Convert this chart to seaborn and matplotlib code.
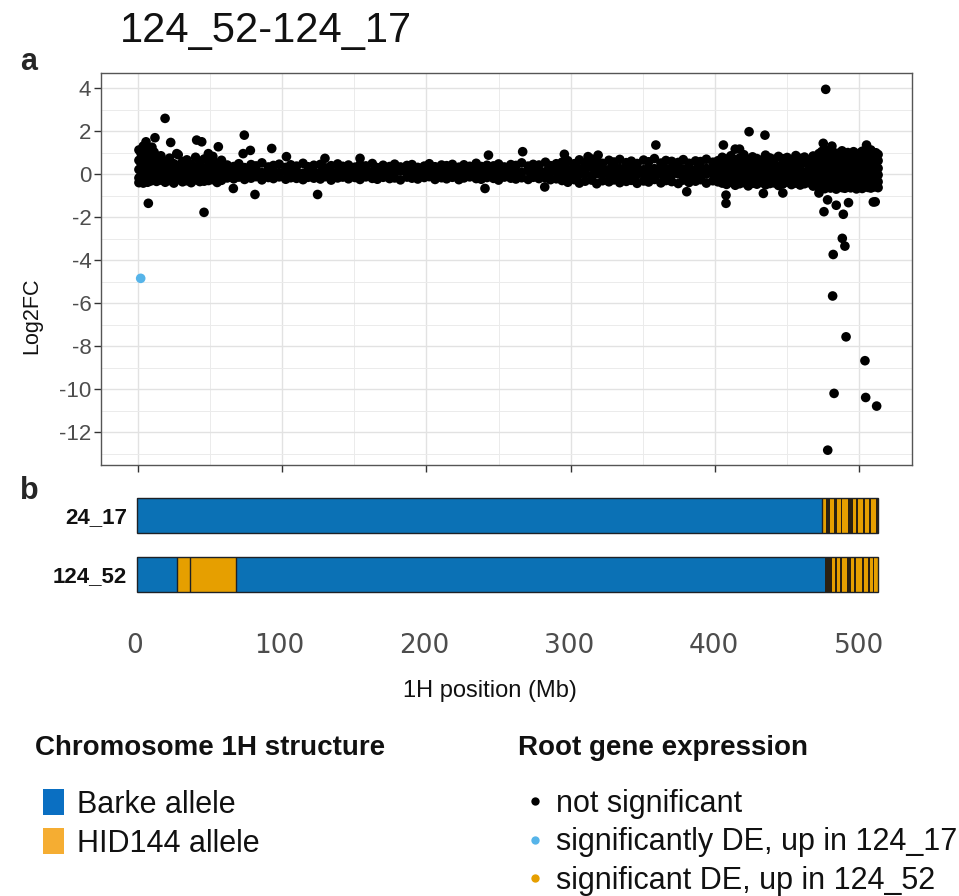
import matplotlib
matplotlib.use("Agg")
import matplotlib.pyplot as plt
from matplotlib.patches import Patch
from matplotlib.lines import Line2D
from matplotlib.ticker import MultipleLocator
import seaborn as sns
import pandas as pd

# ---------------- data ----------------
# dense cloud of non-significant genes (position in Mb, log2 fold change)
posA = [0.8, 2.3, 3.8, 5.3, 6.8, 8.3, 9.8, 11.3]
lfcA = [1.12, 0.64, 0.21, -0.18, -0.40,
        0.95, 0.48, 0.12, -0.26, -0.35,
        1.30, 0.82, 0.35, -0.08, -0.42,
        0.72, 0.40, 0.02, -0.31, 1.05,
        1.18, 0.57, 0.25, -0.14, -0.38,
        0.90, 0.36, -0.05, -0.33, 0.68,
        1.25, 0.70, 0.15, -0.22, -0.30,
        0.85, 0.44, 0.08, -0.28, 1.02]

posB = [13, 16, 19, 22, 25, 28, 31, 34, 37, 40, 43, 46, 49, 52, 55, 58]
lfcB = [0.62, 0.28, -0.05, -0.34, 0.85, 0.35, 0.02, -0.28, 0.55, 0.20, -0.12, -0.38,
        0.74, 0.31, 0.00, -0.30, 0.48, 0.18, -0.10, -0.42, 0.90, 0.40, 0.05, -0.25,
        0.58, 0.22, -0.08, -0.36, 0.66, 0.30, -0.02, -0.31, 0.45, 0.12, -0.15, -0.40,
        0.78, 0.33, 0.04, -0.27, 0.52, 0.19, -0.11, -0.35, 0.70, 0.27, -0.03, -0.33,
        0.60, 0.24, -0.07, -0.30, 0.82, 0.36, 0.01, -0.26, 0.50, 0.15, -0.13, -0.39,
        0.64, 0.29, -0.04, -0.29]

posC = [62, 66.5, 70, 74, 78.5, 82, 86, 90.5, 94, 98, 102.5, 106, 110, 114.5, 118,
        122, 126.5, 130, 134, 138.5, 142, 146, 150.5, 154, 158, 162.5, 166, 170,
        174.5, 178, 182, 186.5, 190, 194, 198.5, 202, 206, 210.5, 214, 218, 222.5,
        226, 230, 234.5, 238, 242, 246.5, 250, 254, 258.5, 262, 266, 270.5, 274,
        278, 282.5, 286, 290]
lfcC_hi = [0.42, 0.35, 0.48, 0.30, 0.44, 0.38, 0.52, 0.33, 0.40, 0.46, 0.31, 0.43,
           0.37, 0.50, 0.34, 0.41, 0.45, 0.29, 0.39, 0.47, 0.36, 0.42, 0.32, 0.44,
           0.38, 0.49, 0.30, 0.41, 0.35, 0.46, 0.33, 0.40, 0.44, 0.31, 0.37, 0.48,
           0.34, 0.42, 0.39, 0.45, 0.32, 0.43, 0.36, 0.50, 0.35, 0.41, 0.38, 0.47,
           0.33, 0.44, 0.40, 0.52, 0.37, 0.45, 0.42, 0.55, 0.39, 0.48]
lfcC_mid = [0.12, 0.08, 0.15, 0.05, 0.10, 0.14, 0.07, 0.11, 0.16, 0.06, 0.13, 0.09,
            0.12, 0.04, 0.15, 0.10, 0.08, 0.13, 0.06, 0.11, 0.14, 0.09, 0.12, 0.07,
            0.16, 0.10, 0.05, 0.13, 0.11, 0.08, 0.15, 0.09, 0.12, 0.06, 0.14, 0.10,
            0.07, 0.13, 0.11, 0.16, 0.08, 0.12, 0.05, 0.14, 0.10, 0.09, 0.15, 0.11,
            0.07, 0.13, 0.12, 0.08, 0.16, 0.10, 0.14, 0.11, 0.09, 0.15]
lfcC_lo = [-0.18, -0.22, -0.14, -0.25, -0.19, -0.12, -0.27, -0.16, -0.21, -0.13,
           -0.24, -0.17, -0.20, -0.26, -0.15, -0.19, -0.23, -0.12, -0.28, -0.18,
           -0.14, -0.22, -0.16, -0.25, -0.13, -0.20, -0.24, -0.15, -0.21, -0.18,
           -0.27, -0.14, -0.19, -0.23, -0.16, -0.12, -0.25, -0.17, -0.22, -0.15,
           -0.26, -0.18, -0.13, -0.21, -0.24, -0.16, -0.20, -0.28, -0.14, -0.19,
           -0.23, -0.17, -0.25, -0.15, -0.21, -0.18, -0.26, -0.22]

posD = [294, 298, 302.5, 306, 310, 314.5, 318, 322, 326.5, 330, 334, 338.5, 342, 346,
        350.5, 354, 358, 362.5, 366, 370, 374.5, 378, 382, 386.5, 390, 394, 398.5, 402]
lfcD_hi = [0.55, 0.62, 0.48, 0.66, 0.52, 0.70, 0.58, 0.50, 0.64, 0.56, 0.68, 0.53,
           0.60, 0.49, 0.65, 0.57, 0.72, 0.51, 0.63, 0.59, 0.54, 0.67, 0.50, 0.61,
           0.58, 0.69, 0.55, 0.62]
lfcD_m2 = [0.28, 0.22, 0.31, 0.25, 0.19, 0.33, 0.24, 0.29, 0.21, 0.30, 0.26, 0.23,
           0.32, 0.27, 0.20, 0.29, 0.25, 0.31, 0.22, 0.28, 0.34, 0.24, 0.27, 0.21,
           0.30, 0.26, 0.23, 0.29]
lfcD_m1 = [0.02, -0.05, 0.06, -0.02, 0.04, -0.07, 0.01, 0.05, -0.04, 0.03, -0.06, 0.00,
           0.07, -0.03, 0.02, -0.05, 0.04, -0.01, 0.06, -0.04, 0.01, 0.03, -0.06, 0.05,
           -0.02, 0.00, 0.04, -0.03]
lfcD_lo = [-0.30, -0.38, -0.26, -0.42, -0.33, -0.28, -0.45, -0.31, -0.36, -0.27, -0.40,
           -0.34, -0.29, -0.43, -0.32, -0.37, -0.25, -0.41, -0.30, -0.35, -0.44, -0.28,
           -0.39, -0.33, -0.26, -0.42, -0.31, -0.36]

posE = [405, 408, 411, 414, 417, 420, 423, 426, 429, 432, 435, 438, 441, 444, 447,
        450, 453, 456, 459, 462, 465, 468, 470.5]
lfcE_1 = [0.78, 0.70, 0.85, 0.66, 0.74, 0.90, 0.68, 0.80, 0.72, 0.64, 0.88, 0.75,
          0.69, 0.82, 0.71, 0.77, 0.65, 0.86, 0.73, 0.79, 0.67, 0.84, 0.76]
lfcE_2 = [0.45, 0.38, 0.50, 0.42, 0.35, 0.48, 0.40, 0.52, 0.37, 0.44, 0.47, 0.39,
          0.51, 0.36, 0.43, 0.49, 0.41, 0.46, 0.38, 0.53, 0.42, 0.45, 0.40]
lfcE_3 = [0.15, 0.10, 0.18, 0.08, 0.13, 0.20, 0.11, 0.16, 0.07, 0.14, 0.19, 0.09,
          0.17, 0.12, 0.06, 0.15, 0.10, 0.18, 0.13, 0.08, 0.16, 0.11, 0.14]
lfcE_4 = [-0.15, -0.20, -0.10, -0.18, -0.12, -0.22, -0.14, -0.08, -0.19, -0.16, -0.11,
          -0.21, -0.13, -0.17, -0.09, -0.20, -0.15, -0.12, -0.18, -0.10, -0.23, -0.14, -0.16]
lfcE_5 = [-0.42, -0.48, -0.38, -0.52, -0.45, -0.40, -0.55, -0.43, -0.47, -0.39, -0.50,
          -0.44, -0.41, -0.53, -0.46, -0.37, -0.49, -0.42, -0.51, -0.45, -0.40, -0.56, -0.47]

posF = [472, 474, 476, 478, 480, 482, 484, 486, 488, 490, 492, 494, 496, 498, 500,
        502, 504, 506, 508, 510, 511.5, 513]
lfcF_1 = [0.95, 1.05, 0.88, 1.10, 0.92, 1.02, 0.85, 0.98, 1.08, 0.90, 1.00, 0.87,
          1.04, 0.93, 0.97, 1.06, 0.89, 1.01, 0.94, 0.86, 0.99, 0.91]
lfcF_2 = [0.62, 0.55, 0.68, 0.58, 0.65, 0.52, 0.60, 0.70, 0.56, 0.63, 0.59, 0.66,
          0.54, 0.61, 0.67, 0.57, 0.64, 0.53, 0.69, 0.60, 0.58, 0.62]
lfcF_3 = [0.28, 0.22, 0.33, 0.25, 0.30, 0.20, 0.35, 0.27, 0.24, 0.31, 0.21, 0.29,
          0.34, 0.23, 0.26, 0.32, 0.19, 0.30, 0.25, 0.28, 0.22, 0.27]
lfcF_4 = [-0.05, 0.02, -0.08, 0.00, -0.03, -0.10, 0.04, -0.06, 0.01, -0.09, -0.02,
          0.03, -0.07, -0.01, -0.04, 0.05, -0.08, -0.03, 0.00, -0.06, 0.02, -0.04]
lfcF_5 = [-0.35, -0.30, -0.40, -0.28, -0.38, -0.33, -0.42, -0.31, -0.36, -0.29, -0.41,
          -0.34, -0.37, -0.32, -0.39, -0.27, -0.43, -0.35, -0.30, -0.38, -0.33, -0.36]
lfcF_6 = [-0.62, -0.58, -0.68, -0.55, -0.65, -0.60, -0.70, -0.57, -0.63, -0.66, -0.59,
          -0.64, -0.56, -0.69, -0.61, -0.67, -0.58, -0.62, -0.65, -0.60, -0.57, -0.63]

# scattered non-significant genes away from the band
out_pos = [18.9, 7.3, 45.9, 73.8, 40.8, 44.3, 22.8, 11.9, 5.7, 55.8, 81.2, 124.6, 66.2,
           92.8, 78, 73, 103, 129.7, 154, 27, 48.9, 243, 266.7, 295.6, 359, 240.6, 282,
           319, 312, 423.6, 434.6, 405.8, 414, 417, 407.6, 407.6, 433.5, 447, 380.4,
           475, 481, 505, 508, 476.7, 475.5, 488.9, 478, 484, 509.7, 472, 488.2, 490,
           481.9, 481.5, 490.8, 503.9, 482.5, 504.4, 512, 478.1, 511, 492.5]
out_lfc = [2.59, -1.36, -1.78, 1.81, 1.58, 1.50, 1.47, 1.69, 1.50, 1.27, -0.95, -0.95,
           -0.67, 1.19, 1.10, 0.95, 0.81, 0.73, 0.73, 0.95, 0.95, 0.88, 1.04, 0.92, 1.35,
           -0.67, -0.60, 0.88, 0.81, 1.97, 1.81, 1.35, 1.16, 1.16, -0.98, -1.36, -0.90,
           -0.88, -0.82, 1.43, 1.30, 1.35, 1.12, 3.94, -1.75, -1.87, -1.20, -1.45, -1.30,
           -0.88, -2.99, -3.35, -3.74, -5.67, -7.57, -8.68, -10.20, -10.39, -10.79,
           -12.84, -1.29, -1.33]

# significantly DE, up in 124_17
de17_pos = [2.0]
de17_lfc = [-4.85]

# chromosome 1H haplotype segments (Mb); B = Barke, H = HID144, M = dense mosaic
seg_24_17_start = [1.9, 474.0, 476.8, 480.0, 482.6, 484.4, 487.3, 488.3, 492.2, 495.5,
                   497.6, 499.0, 502.3, 504.2, 506.9, 507.8, 511.8]
seg_24_17_end = [474.0, 476.8, 480.0, 482.6, 484.4, 487.3, 488.3, 492.2, 495.5, 497.6,
                 499.0, 502.3, 504.2, 506.9, 507.8, 511.8, 512.9]
seg_24_17_allele = ["B", "H", "M", "H", "M", "H", "M", "H", "M", "H", "M", "H", "M",
                    "H", "M", "H", "M"]
seg_124_52_start = [1.9, 29.4, 38.4, 70.1, 476.6, 481.0, 483.2, 484.8, 486.9, 487.8,
                    491.2, 494.4, 496.3, 497.9, 502.0, 503.4, 506.2, 507.6, 509.5, 510.3]
seg_124_52_end = [29.4, 38.4, 70.1, 476.6, 481.0, 483.2, 484.8, 486.9, 487.8, 491.2,
                  494.4, 496.3, 497.9, 502.0, 503.4, 506.2, 507.6, 509.5, 510.3, 512.9]
seg_124_52_allele = ["B", "H", "H", "B", "M", "H", "M", "H", "M", "H", "M", "H", "M",
                     "H", "M", "H", "M", "H", "M", "H"]

lines = ["24_17", "124_52"]
x_ticks = [0, 100, 200, 300, 400, 500]
y_ticks = [-12, -10, -8, -6, -4, -2, 0, 2, 4]

# ---------------- assemble ----------------
ns_pos = (sum([[p] * 5 for p in posA], []) + sum([[p] * 4 for p in posB], []) +
          posC * 3 + posD * 4 + posE * 5 + posF * 6 + out_pos)
ns_lfc = (lfcA + lfcB + lfcC_hi + lfcC_mid + lfcC_lo +
          lfcD_hi + lfcD_m2 + lfcD_m1 + lfcD_lo +
          lfcE_1 + lfcE_2 + lfcE_3 + lfcE_4 + lfcE_5 +
          lfcF_1 + lfcF_2 + lfcF_3 + lfcF_4 + lfcF_5 + lfcF_6 + out_lfc)

df = pd.DataFrame({
    "pos": ns_pos + de17_pos,
    "lfc": ns_lfc + de17_lfc,
    "status": ["not significant"] * len(ns_pos) + ["up17"] * len(de17_pos),
})

BLUE = "#0b71b5"
ORANGE = "#e69f00"
MIXED = "#2a2012"
EDGE = "#1d2126"
allele_colors = {"B": BLUE, "H": ORANGE, "M": MIXED}
point_palette = {"not significant": "#000000", "up17": "#56B4E9", "up52": "#E69F00"}

# ---------------- figure ----------------
sns.set_style("white")
plt.rcParams["font.family"] = ["Liberation Sans", "DejaVu Sans"]
plt.rcParams["axes.unicode_minus"] = False

W, H = 959, 896
fig = plt.figure(figsize=(W / 100, H / 100), dpi=100)
fig.patch.set_facecolor("white")


def px_axes(left, top, right, bottom):
    return fig.add_axes([left / W, 1 - bottom / H, (right - left) / W, (bottom - top) / H])


# panel a
ax = px_axes(101, 73, 912, 465)
ax.set_xlim(-25.5, 536.5)
ax.set_ylim(-13.53, 4.70)
ax.xaxis.set_major_locator(MultipleLocator(100))
ax.xaxis.set_minor_locator(MultipleLocator(50))
ax.set_yticks(y_ticks)
ax.yaxis.set_minor_locator(MultipleLocator(1))
ax.grid(True, which="major", color="#e2e2e2", linewidth=1.0, zorder=0)
ax.grid(True, which="minor", color="#ebebeb", linewidth=0.7, zorder=0)
ax.set_axisbelow(True)
sns.scatterplot(data=df, x="pos", y="lfc", hue="status", palette=point_palette,
                s=48, linewidth=0, legend=False, ax=ax, zorder=3)
for sp in ax.spines.values():
    sp.set_visible(True)
    sp.set_color("#555555")
    sp.set_linewidth(1.0)
ax.tick_params(axis="both", which="major", direction="out", length=5, width=1.0,
               color="#333333", labelcolor="#4d4d4d", labelsize=16, pad=2,
               bottom=True, left=True)
ax.tick_params(axis="both", which="minor", length=0)
ax.tick_params(axis="x", labelbottom=False)
ax.set_xlabel("")
ax.set_ylabel("Log2FC", fontsize=15.5, color="#111111")
ax.yaxis.set_label_coords((42 - 101) / 811, (465 - 316) / 392)

# panel b  (axes starts just left of the bars so the line labels sit next to them)
B_LEFT = 133
axb = px_axes(B_LEFT, 490, 912, 618)
axb.set_xlim((B_LEFT - 134.3) / 1.45, (912 - 134.3) / 1.45)
axb.set_ylim(1.737, -0.432)
bar_h = 0.58
for row, (st, en, al) in enumerate([(seg_24_17_start, seg_24_17_end, seg_24_17_allele),
                                     (seg_124_52_start, seg_124_52_end, seg_124_52_allele)]):
    widths = [e - s for s, e in zip(st, en)]
    axb.barh([row] * len(st), widths, left=st, height=bar_h,
             color=[allele_colors[a] for a in al], linewidth=0)
    # outline of the whole chromosome
    axb.barh([row], [en[-1] - st[0]], left=[st[0]], height=bar_h, fill=False,
             edgecolor=EDGE, linewidth=1.0)
    # thin borders between Barke / HID144 blocks
    for i in range(1, len(st)):
        if al[i] != "M" and al[i - 1] != "M":
            axb.vlines(st[i], row - bar_h / 2, row + bar_h / 2, color=EDGE, linewidth=1.0)
axb.set_yticks([0, 1])
axb.set_yticklabels(lines)
for lab in axb.get_yticklabels():
    lab.set_fontweight("bold")
    lab.set_fontsize(16)
    lab.set_color("#111111")
axb.set_xticks(x_ticks)
axb.set_xticklabels([str(t) for t in x_ticks])
for lab in axb.get_xticklabels():
    lab.set_family(["DejaVu Sans"])
    lab.set_fontsize(19)
    lab.set_color("#4d4d4d")
axb.tick_params(axis="x", direction="out", length=7, width=1.3, color="#333333", pad=4)
axb.tick_params(axis="y", length=0, pad=4.5)
for sp in axb.spines.values():
    sp.set_visible(False)
axb.set_facecolor("none")
axb.set_xlabel("1H position (Mb)", fontsize=17, color="#111111")
axb.xaxis.set_label_coords((490 - B_LEFT) / (912 - B_LEFT), -(697 - 618) / 128)
axb.xaxis.label.set_va("baseline")

# texts
fig.text(120 / W, 1 - 42 / H, "124_52-124_17", fontsize=30, color="#111111",
         ha="left", va="baseline")
fig.text(20 / W, 1 - 70 / H, "a", fontsize=22, fontweight="bold", ha="left", va="baseline")
fig.text(20 / W, 1 - 499 / H, "b", fontsize=22, fontweight="bold", ha="left", va="baseline")

fig.text(35 / W, 1 - 748 / H, "Chromosome 1H structure", fontsize=20, fontweight="bold",
         ha="left", va="center", color="#111111")
fig.text(518 / W, 1 - 748 / H, "Root gene expression", fontsize=20, fontweight="bold",
         ha="left", va="center", color="#111111")

allele_handles = [Patch(facecolor="#0a6fc2", edgecolor="none"),
                  Patch(facecolor="#f5ad32", edgecolor="none")]
leg1 = fig.legend(allele_handles, ["Barke allele", "HID144 allele"], loc="upper left",
                  bbox_to_anchor=(43 / W, 1 - 789 / H), frameon=False, fontsize=22,
                  handlelength=0.7, handleheight=0.95, handletextpad=0.4,
                  labelspacing=0.27, borderpad=0, borderaxespad=0)
dot_handles = [Line2D([], [], marker="o", linestyle="none", markersize=6,
                      markerfacecolor=c, markeredgecolor="none")
               for c in ["#000000", "#56B4E9", "#E69F00"]]
leg2 = fig.legend(dot_handles, ["not significant", "significantly DE, up in 124_17",
                                "significant DE, up in 124_52"],
                  loc="upper left", bbox_to_anchor=(529 / W, 1 - 789 / H), frameon=False,
                  fontsize=22, handlelength=0.4, handletextpad=0.5, labelspacing=0.27,
                  borderpad=0, borderaxespad=0)
for lg in (leg1, leg2):
    for t in lg.get_texts():
        t.set_color("#111111")

fig.savefig("out.png", dpi=100, facecolor="white")
